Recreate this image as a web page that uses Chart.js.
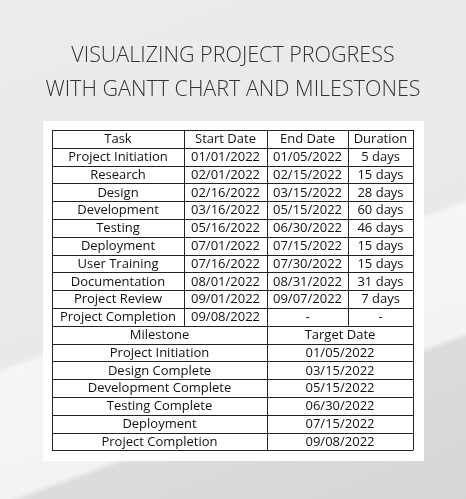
<!DOCTYPE html>
<html><head><meta charset="utf-8">
<script src="https://cdn.jsdelivr.net/npm/chart.js@4"></script>
<style>
html,body{margin:0;padding:0;width:466px;height:499px;overflow:hidden;
background:linear-gradient(160deg,#ececec 0%,#e9e9e9 55%,#f6f6f6 56%,#f3f3f3 75%,#dcdcdc 76%,#d6d6d6 100%);}
#c{position:absolute;left:0;top:0}
</style></head><body>
<canvas id="c" width="466" height="499"></canvas>
<script>
const titleLines=["VISUALIZING PROJECT PROGRESS","WITH GANTT CHART AND MILESTONES"];
const taskHeader=["Task","Start Date","End Date","Duration"];
const tasks=["Project Initiation","Research","Design","Development","Testing","Deployment","User Training","Documentation","Project Review","Project Completion"];
const startDates=["01/01/2022","02/01/2022","02/16/2022","03/16/2022","05/16/2022","07/01/2022","07/16/2022","08/01/2022","09/01/2022","09/08/2022"];
const endDates=["01/05/2022","02/15/2022","03/15/2022","05/15/2022","06/30/2022","07/15/2022","07/30/2022","08/31/2022","09/07/2022","-"];
const durations=["5 days","15 days","28 days","60 days","46 days","15 days","15 days","31 days","7 days","-"];
const milestoneHeader=["Milestone","Target Date"];
const milestones=["Project Initiation","Design Complete","Development Complete","Testing Complete","Deployment","Project Completion"];
const targetDates=["01/05/2022","03/15/2022","05/15/2022","06/30/2022","07/15/2022","09/08/2022"];

const tablePlugin={id:'table',afterDraw(chart){
  const ctx=chart.ctx;ctx.save();
  ctx.fillStyle='#333';ctx.textAlign='center';ctx.textBaseline='middle';
  ctx.font='300 21.5px "Open Sans", "Noto Sans", sans-serif';
  ctx.fillText(titleLines[0],233,56);ctx.fillText(titleLines[1],233,90);
  ctx.fillStyle='#fff';ctx.fillRect(43,121,381,340);
  const x=[52,184,267,348,413],y0=130,rh=17.8;
  const rows=1+tasks.length+1+milestones.length;
  ctx.strokeStyle='#222';ctx.lineWidth=1;
  ctx.beginPath();
  for(let i=0;i<=rows;i++){const yy=Math.round(y0+i*rh)+0.5;ctx.moveTo(x[0],yy);ctx.lineTo(x[4],yy);}
  const yTaskEnd=y0+(1+tasks.length)*rh,yEnd=y0+rows*rh;
  ctx.moveTo(x[0]+0.5,y0);ctx.lineTo(x[0]+0.5,yEnd);
  ctx.moveTo(x[4]+0.5,y0);ctx.lineTo(x[4]+0.5,yEnd);
  ctx.moveTo(x[1]+0.5,y0);ctx.lineTo(x[1]+0.5,yTaskEnd);
  ctx.moveTo(x[3]+0.5,y0);ctx.lineTo(x[3]+0.5,yTaskEnd);
  ctx.moveTo(x[2]+0.5,y0);ctx.lineTo(x[2]+0.5,yEnd);
  ctx.stroke();
  ctx.fillStyle='#111';ctx.font='13px "Open Sans", "Noto Sans", sans-serif';
  const cx=i=>(x[i]+x[i+1])/2,cy=r=>y0+r*rh+rh/2+0.5;
  taskHeader.forEach((t,i)=>ctx.fillText(t,cx(i),cy(0)));
  tasks.forEach((t,r)=>{[t,startDates[r],endDates[r],durations[r]].forEach((v,i)=>ctx.fillText(v,cx(i),cy(r+1)));});
  const m0=1+tasks.length;
  const mx=[(x[0]+x[2])/2,(x[2]+x[4])/2];
  milestoneHeader.forEach((t,i)=>ctx.fillText(t,mx[i],cy(m0)));
  milestones.forEach((t,r)=>{ctx.fillText(t,mx[0],cy(m0+1+r));ctx.fillText(targetDates[r],mx[1],cy(m0+1+r));});
  ctx.restore();
}};
new Chart(document.getElementById('c'),{type:'bar',
 data:{labels:tasks,datasets:[{data:[],label:'Tasks'}]},
 options:{responsive:false,animation:false,events:[],
  plugins:{legend:{display:false},tooltip:{enabled:false}},
  scales:{x:{display:false},y:{display:false}}},
 plugins:[tablePlugin]});
</script></body></html>
